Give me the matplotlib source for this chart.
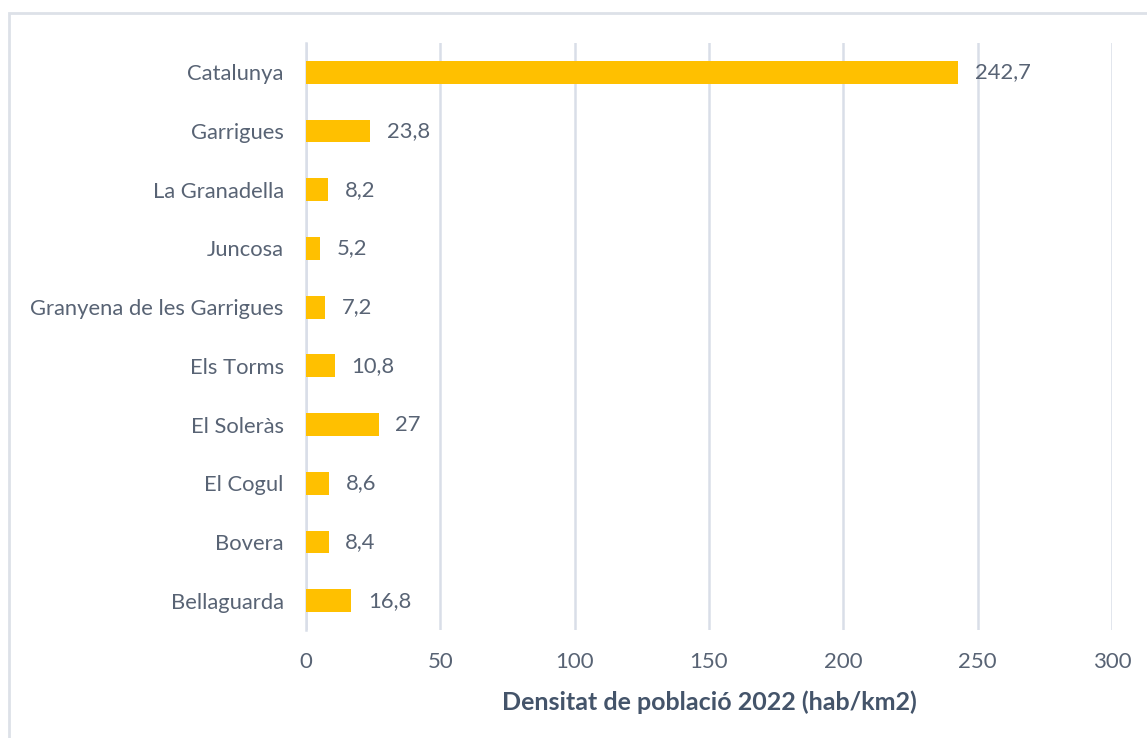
import matplotlib
matplotlib.use("Agg")
import matplotlib.pyplot as plt
from matplotlib.patches import Rectangle

# dades: densitat de població 2022 (hab/km2)
municipis = ['Catalunya', 'Garrigues', 'La Granadella', 'Juncosa',
             'Granyena de les Garrigues', 'Els Torms', 'El Soleràs',
             'El Cogul', 'Bovera', 'Bellaguarda']
densitat = [242.7, 23.8, 8.2, 5.2, 7.2, 10.8, 27, 8.6, 8.4, 16.8]
xticks = [0, 50, 100, 150, 200, 250, 300]

plt.rcParams['font.family'] = ['Lato', 'DejaVu Sans']
text_col = '#586374'
grid_col = '#D9DEE8'

fig = plt.figure(figsize=(11.47, 7.38), dpi=100)
ax = fig.add_axes([306/1147, 1 - 630/738, (1112 - 306)/1147, (630 - 43)/738])

pos = list(range(len(municipis)))
ax.barh(pos, densitat, height=0.39, color='#FFC000', zorder=3)
for p, v in zip(pos, densitat):
    etiqueta = f'{v:g}'.replace('.', ',')
    ax.annotate(etiqueta, (v, p), xytext=(12, 0), textcoords='offset points',
                va='center', ha='left', fontsize=15.8, color=text_col, zorder=4)

ax.set_yticks(pos)
ax.set_yticklabels(municipis, fontsize=15.8, color=text_col)
ax.set_ylim(len(municipis) - 0.5, -0.5)
ax.set_xlim(0, 300)
ax.set_xticks(xticks)
ax.set_xticklabels([str(t) for t in xticks], fontsize=16, color=text_col)
ax.tick_params(axis='both', length=0)
ax.tick_params(axis='x', pad=16)
ax.tick_params(axis='y', pad=16)

ax.grid(axis='x', color=grid_col, linewidth=1.8, zorder=0)
ax.set_axisbelow(True)
for s in ['top', 'right', 'bottom']:
    ax.spines[s].set_visible(False)
ax.spines['left'].set_color(grid_col)
ax.spines['left'].set_linewidth(1.8)

ax.set_xlabel('Densitat de població 2022 (hab/km2)', fontsize=18,
              fontweight='bold', color='#44546A', labelpad=13)

fig.patches.append(Rectangle((9/1147, -0.1), 1.2, 1 - 13/738 + 0.1,
                             transform=fig.transFigure, fill=False,
                             edgecolor='#DDE1E8', linewidth=2))

fig.savefig('out.png', dpi=100)
